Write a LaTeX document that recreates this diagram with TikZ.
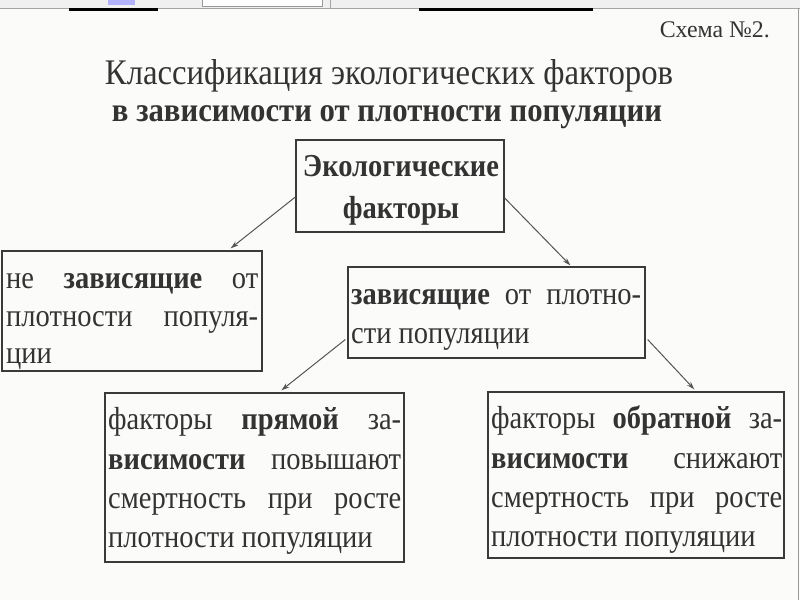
\documentclass[tikz,border=0pt]{standalone}
\usepackage{fontspec}
\setmainfont{Liberation Serif}
\usetikzlibrary{arrows.meta}
\definecolor{txtc}{HTML}{333333}
\definecolor{boxc}{HTML}{3A3A3A}
\definecolor{arrc}{HTML}{555555}
\definecolor{bgc}{HTML}{FBFBF9}
\newcommand\st[1]{\scalebox{1}[1.12]{#1}}
\newcommand\jl[2]{\scalebox{1}[1.12]{\makebox[#1][s]{#2}}}
\tikzset{
  box/.style={draw=boxc, line width=1.3pt, inner sep=0pt},
  ln/.style={anchor=base west, inner sep=0pt, text=txtc, font=\fontsize{28.5}{34}\selectfont},
  lnc/.style={ln, anchor=base},
  conn/.style={draw=arrc, line width=1pt, -{Stealth[length=8pt,width=5pt]}},
}
\begin{document}
\begin{tikzpicture}[x=1pt,y=-1pt]
\useasboundingbox (0,0) rectangle (800,600);
\fill[bgc] (0,0) rectangle (800,600);
% top strip (screen chrome)
\fill[gray!12] (0,0) rectangle (800,8);
\draw[gray!70, line width=0.8pt] (0,8) -- (800,8);
\fill[white] (202,0) rectangle (322,6);
\draw[gray!80, line width=0.6pt] (202,0) -- (202,6) -- (322,6) -- (322,0);
\fill[blue!30] (108,0) rectangle (135,5);
\draw[gray!70, line width=0.6pt] (330,0) -- (330,8);
\fill[black] (69,8) rectangle (158,11);
\fill[black] (419,8) rectangle (593,11);
\draw[gray!80, line width=1pt] (798,8) -- (798,600);

% titles
\node[anchor=base east, inner sep=0pt, text=txtc] (sch) at (770,37)
  {\resizebox{110pt}{!}{Схема №2.}};
\node[anchor=base, inner sep=0pt, text=txtc] (t1) at (389,84)
  {\scalebox{1}[1.1]{\resizebox{568pt}{!}{Классификация экологических факторов}}};
\node[anchor=base, inner sep=0pt, text=txtc] (t2) at (387,121)
  {\scalebox{1}[1.1]{\resizebox{550pt}{!}{\textbf{в зависимости от плотности популяции}}}};

% boxes
\node[box, minimum width=208pt, minimum height=92pt] (top) at (400,186) {};
\node[box, minimum width=260pt, minimum height=120pt] (lb) at (132,311) {};
\node[box, minimum width=297pt, minimum height=91pt] (mb) at (496.5,312.5) {};
\node[box, minimum width=299pt, minimum height=169pt] (bl) at (254.5,477.5) {};
\node[box, minimum width=296pt, minimum height=166pt] (br) at (636,475) {};

% texts
\node[lnc] (top1) at (401,176) {\st{\textbf{Экологические}}};
\node[lnc] (top2) at (401,218) {\st{\textbf{факторы}}};

\node[ln] (lb1) at (6,288) {\jl{252pt}{не \textbf{зависящие} от}};
\node[ln] (lb2) at (6,326) {\jl{252pt}{плотности популя-}};
\node[ln] (lb3) at (6,363) {\st{ции}};

\node[ln] (mb1) at (351,304) {\jl{290pt}{\textbf{зависящие} от плотно-}};
\node[ln] (mb2) at (351,343) {\st{сти популяции}};

\node[ln] (bl1) at (108,429) {\jl{293pt}{факторы \textbf{прямой} за-}};
\node[ln] (bl2) at (108,469) {\jl{293pt}{\textbf{висимости} повышают}};
\node[ln] (bl3) at (108,508) {\jl{293pt}{смертность при росте}};
\node[ln] (bl4) at (108,547) {\st{плотности популяции}};

\node[ln] (br1) at (491,428) {\jl{291pt}{факторы \textbf{обратной} за-}};
\node[ln] (br2) at (491,468) {\jl{291pt}{\textbf{висимости} снижают}};
\node[ln] (br3) at (491,507) {\jl{291pt}{смертность при росте}};
\node[ln] (br4) at (491,546) {\st{плотности популяции}};

% connectors
\draw[conn] ([yshift=-11pt]top.west) -- ([xshift=-32pt,yshift=2pt]lb.north east);
\draw[conn] ([yshift=-12pt]top.east) -- ([xshift=223pt,yshift=1pt]mb.north west);
\draw[conn] ([xshift=-2pt,yshift=-27pt]mb.west) -- ([xshift=177pt,yshift=2pt]bl.north west);
\draw[conn] ([xshift=2pt,yshift=-27pt]mb.east) -- ([xshift=207pt,yshift=2pt]br.north west);
\end{tikzpicture}
\end{document}
